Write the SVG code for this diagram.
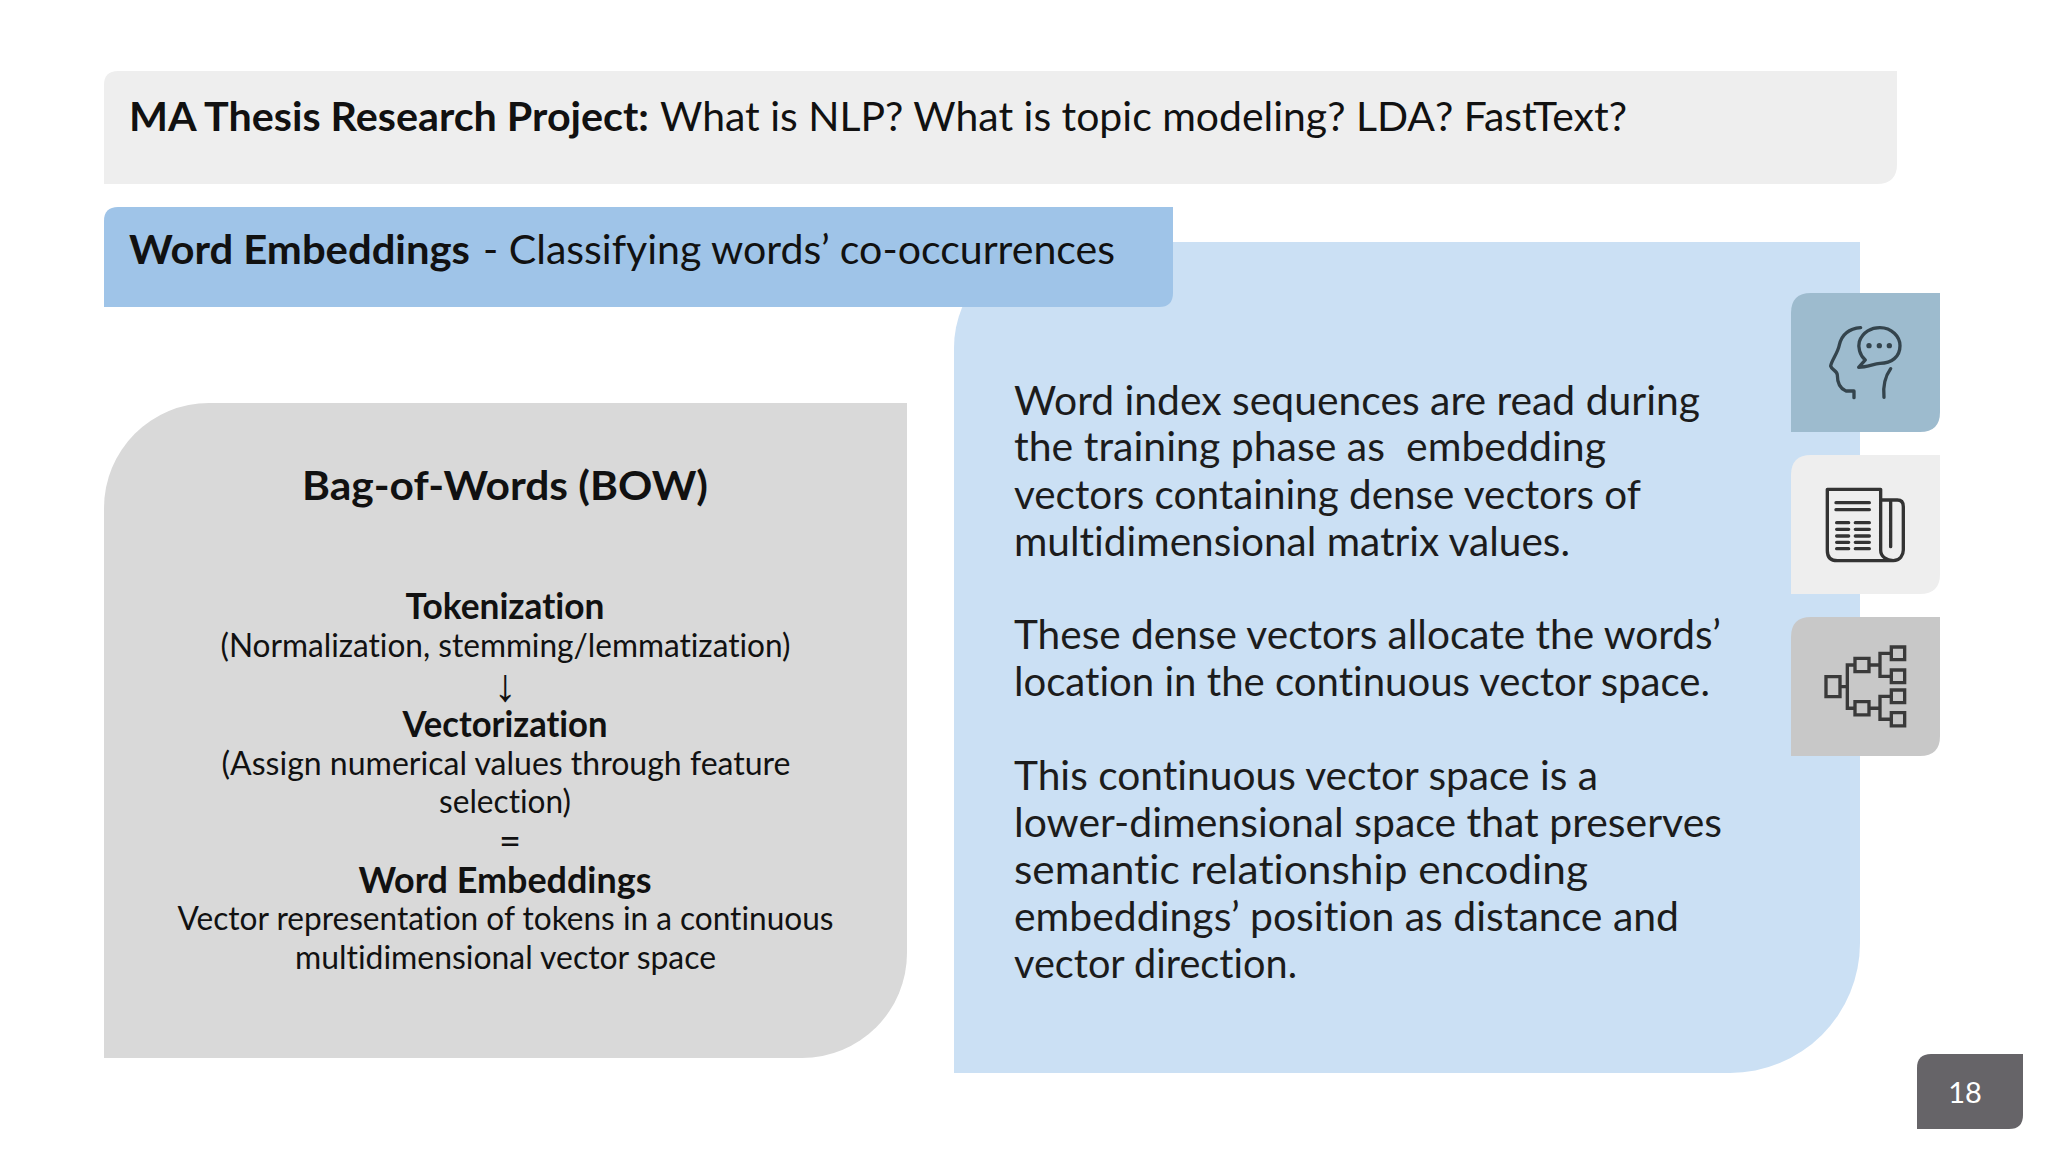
<svg xmlns="http://www.w3.org/2000/svg" width="2048" height="1152" viewBox="0 0 2048 1152">
<style>
text{font-family:"Lato","Noto Sans",sans-serif;fill:#111;font-variant-ligatures:none;white-space:pre}
.b{font-weight:700}
.h{font-size:41px}
.c{text-anchor:middle}
.s{font-size:32.5px}
.sb{font-size:35.5px;font-weight:700}
.r{font-size:41px;fill:#1c1c1c}
.i{fill:none;stroke:#34444d;stroke-width:10;stroke-linecap:round;stroke-linejoin:round}
.d{fill:#34444d}
.p{fill:none;stroke:#333;stroke-width:10;stroke-linecap:round;stroke-linejoin:round}
.n{fill:none;stroke:#3a3a3a;stroke-width:10;stroke-linejoin:miter}
</style>
<rect width="2048" height="1152" fill="#fff"/>
<g id="title-bar"><path d="M118 71H1897V164Q1897 184 1877 184H104V85Q104 71 118 71Z" fill="#eeeeee"/>
<text y="131" class="h"><tspan class="b" x="129" textLength="520" lengthAdjust="spacingAndGlyphs">MA Thesis Research Project:</tspan><tspan x="660" textLength="967" lengthAdjust="spacingAndGlyphs">What is NLP? What is topic modeling? LDA? FastText?</tspan></text></g>
<g id="right-panel"><path d="M1060 242H1860V943A130 130 0 0 1 1730 1073H954V348A106 106 0 0 1 1060 242Z" fill="#cbe0f4"/>
<text x="1014" class="r" xml:space="preserve"><tspan x="1014" y="415" textLength="686" lengthAdjust="spacingAndGlyphs">Word index sequences are read during</tspan><tspan x="1014" y="461" textLength="592" lengthAdjust="spacingAndGlyphs">the training phase as  embedding</tspan><tspan x="1014" y="509" textLength="627" lengthAdjust="spacingAndGlyphs">vectors containing dense vectors of</tspan><tspan x="1014" y="556" textLength="556" lengthAdjust="spacingAndGlyphs">multidimensional matrix values.</tspan><tspan x="1014" y="649" textLength="707" lengthAdjust="spacingAndGlyphs">These dense vectors allocate the words’</tspan><tspan x="1014" y="696" textLength="696" lengthAdjust="spacingAndGlyphs">location in the continuous vector space.</tspan><tspan x="1014" y="790" textLength="584" lengthAdjust="spacingAndGlyphs">This continuous vector space is a</tspan><tspan x="1014" y="837" textLength="708" lengthAdjust="spacingAndGlyphs">lower-dimensional space that preserves</tspan><tspan x="1014" y="884" textLength="574" lengthAdjust="spacingAndGlyphs">semantic relationship encoding</tspan><tspan x="1014" y="931" textLength="665" lengthAdjust="spacingAndGlyphs">embeddings’ position as distance and</tspan><tspan x="1014" y="978" textLength="283" lengthAdjust="spacingAndGlyphs">vector direction.</tspan></text></g>
<g id="subtitle-bar"><path d="M118 207H1173V293Q1173 307 1159 307H104V221Q104 207 118 207Z" fill="#9fc4e8"/>
<text y="264" class="h"><tspan class="b" x="129" textLength="341" lengthAdjust="spacingAndGlyphs">Word Embeddings</tspan><tspan x="483" textLength="632" lengthAdjust="spacingAndGlyphs">- Classifying words’ co-occurrences</tspan></text></g>
<g id="bow-panel"><path d="M209 403H907V953A105 105 0 0 1 802 1058H104V508A105 105 0 0 1 209 403Z" fill="#d9d9d9"/>
<text x="505" y="500" class="c b" font-size="41" textLength="406" lengthAdjust="spacingAndGlyphs">Bag-of-Words (BOW)</text>
<text x="505" y="619" class="c sb" textLength="199" lengthAdjust="spacingAndGlyphs">Tokenization</text>
<text x="505.500" y="657" class="c s" textLength="570" lengthAdjust="spacingAndGlyphs">(Normalization, stemming/lemmatization)</text>
<text x="505" y="701" class="c" style="font-family:'Liberation Serif',serif;font-size:46px">↓</text>
<text x="505" y="737" class="c sb" textLength="205" lengthAdjust="spacingAndGlyphs">Vectorization</text>
<text x="506" y="775" class="c s" textLength="569" lengthAdjust="spacingAndGlyphs">(Assign numerical values through feature</text>
<text x="505" y="813" class="c s" textLength="132" lengthAdjust="spacingAndGlyphs">selection)</text>
<text x="510" y="855" class="c" style="font-size:38px">=</text>
<text x="505" y="893" class="c sb" textLength="293" lengthAdjust="spacingAndGlyphs">Word Embeddings</text>
<text x="505.500" y="930" class="c s" textLength="656" lengthAdjust="spacingAndGlyphs">Vector representation of tokens in a continuous</text>
<text x="505.500" y="969" class="c s" textLength="421" lengthAdjust="spacingAndGlyphs">multidimensional vector space</text></g>
<g id="icon-head"><path d="M1811 293H1940V412Q1940 432 1920 432H1791V313Q1791 293 1811 293Z" fill="#9dbbce"/>
<g transform="translate(1760 280) scale(.3333)"><path class="i" d="M302 143C265 146 245 165 238 195C233 220 215 240 212 258C215 270 232 272 232 285C232 305 238 325 258 333H282V353"/><path class="i" d="M296 262L316 240C298 225 294 200 298 185C308 155 335 143 360 143C395 143 420 170 420 197C420 230 395 250 360 250C340 252 320 262 296 262Z"/><path class="i" d="M392 266C375 290 368 315 372 352"/><circle class="d" cx="327" cy="197" r="8"/><circle class="d" cx="358" cy="197" r="8"/><circle class="d" cx="388" cy="197" r="8"/></g></g>
<g id="icon-news"><path d="M1811 455H1940V574Q1940 594 1920 594H1791V475Q1791 455 1811 455Z" fill="#eeeeee"/>
<g transform="translate(1760 280) scale(.3333)"><path class="p" d="M362 628H202V812Q202 842 232 842H400C420 842 430 825 430 810V680Q430 660 412 660H362V810C362 830 380 842 400 842M362 810V628M392 665V800M228 668H328M228 689H328M230 728H266M286 728H328M230 748H266M286 748H328M230 768H266M286 768H328M230 787H266M286 787H328M230 806H266M286 806H328"/></g></g>
<g id="icon-tree"><path d="M1811 617H1940V736Q1940 756 1920 756H1791V637Q1791 617 1811 617Z" fill="#c8c8c8"/>
<g transform="translate(1760 280) scale(.3333)"><path class="n" d="M198 1190H240V1250H198ZM285 1135H327V1175H285ZM285 1265H327V1305H285ZM394 1101H434V1139H394ZM394 1170H434V1208H394ZM394 1230H434V1268H394ZM394 1298H434V1338H394ZM240 1220H262M285 1155H262V1285H285M327 1155H360M394 1120H360V1189H394M327 1285H360M394 1249H360V1318H394"/></g></g>
<g id="page-number"><path d="M1931 1054H2023V1115Q2023 1129 2009 1129H1917V1068Q1917 1054 1931 1054Z" fill="#666468"/>
<text x="1965" y="1103" text-anchor="middle" font-size="29" style="fill:#fff">18</text></g>
</svg>
